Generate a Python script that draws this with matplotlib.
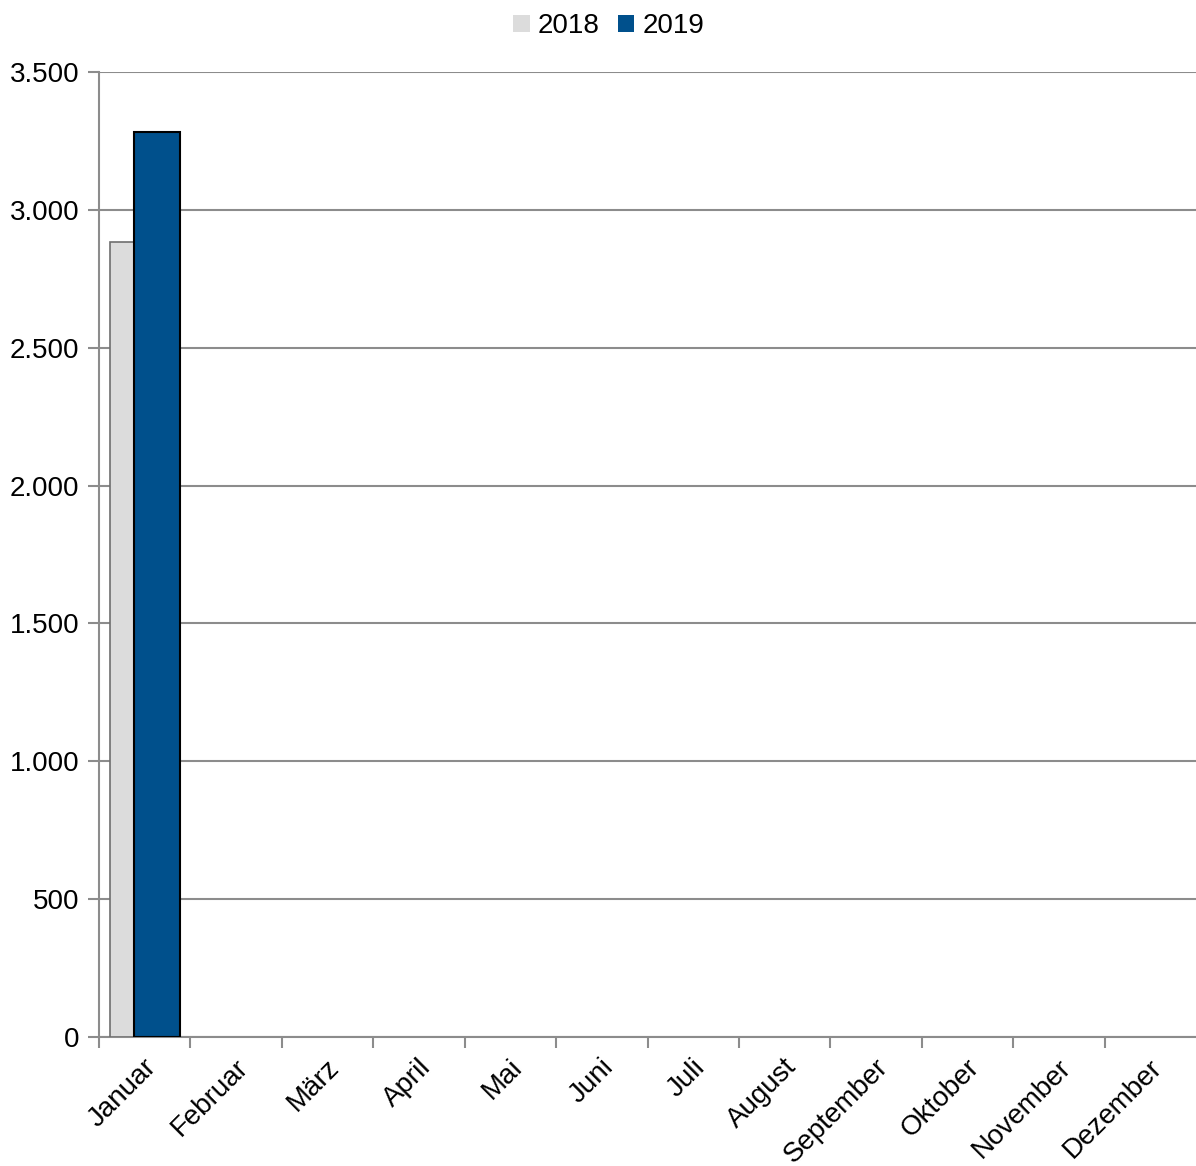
import numpy as np
import matplotlib.pyplot as plt
import matplotlib.transforms as mtrans

# monthly values (only January has data)
months = ["Januar", "Februar", "März", "April", "Mai", "Juni", "Juli",
          "August", "September", "Oktober", "November", "Dezember"]
values_2018 = [2885, 0, 0, 0, 0, 0, 0, 0, 0, 0, 0, 0]
values_2019 = [3282, 0, 0, 0, 0, 0, 0, 0, 0, 0, 0, 0]
y_ticks = [0, 500, 1000, 1500, 2000, 2500, 3000, 3500]
y_labels = ["0", "500", "1.000", "1.500", "2.000", "2.500", "3.000", "3.500"]

plt.rcParams['font.family'] = ['Liberation Sans', 'DejaVu Sans']
grey = '#8c8c8c'
fs = 20

fig = plt.figure(figsize=(11.96, 11.66), dpi=100)
ax = fig.add_axes([99 / 1196, 1 - 1037 / 1166, 1 - 99 / 1196, (1037 - 72) / 1166])

x = np.arange(len(months))
w = 0.5
off = 0.135
# no outline for empty months
lw18 = [1.2 if v > 0 else 0 for v in values_2018]
lw19 = [1.5 if v > 0 else 0 for v in values_2019]
b18 = ax.bar(x - off, values_2018, w, color='#dcdcdc', edgecolor='#6e6e6e', linewidth=lw18, label='2018', zorder=3)
b19 = ax.bar(x + off, values_2019, w, color='#00508c', edgecolor='black', linewidth=lw19, label='2019', zorder=4)

ax.set_xlim(-0.5, len(months) - 0.5)
ax.set_ylim(0, 3500)
ax.set_yticks(y_ticks)
ax.set_yticklabels(y_labels, fontsize=fs)
ax.yaxis.grid(True, color=grey, linewidth=1.5, zorder=0)
ax.set_axisbelow(True)

# category boundary ticks, labels at category centers
ax.set_xticks(np.arange(len(months)) - 0.5)
ax.set_xticklabels([])
ax.set_xticks(x, minor=True)
ax.set_xticklabels(months, minor=True, rotation=45, ha='right', va='center',
                   rotation_mode='anchor', fontsize=fs)
ax.tick_params(axis='x', which='major', length=8, width=1.5, color=grey)
ax.tick_params(axis='x', which='minor', length=0, pad=19)
ax.tick_params(axis='y', length=8, width=1.5, color=grey, pad=6)
shift = mtrans.ScaledTranslation(8 / 100, 0, fig.dpi_scale_trans)
for lab in ax.get_xticklabels(minor=True):
    lab.set_transform(lab.get_transform() + shift)

for s in ['top', 'right']:
    ax.spines[s].set_visible(False)
for s in ['left', 'bottom']:
    ax.spines[s].set_color(grey)
    ax.spines[s].set_linewidth(1.5)

fig.legend(handles=[b18, b19], labels=['2018', '2019'], loc='upper center',
           bbox_to_anchor=(0.509, 1.01), ncol=2, frameon=False, fontsize=fs,
           handlelength=0.6, handleheight=0.6, handletextpad=0.3, columnspacing=0.65)
for h, c in zip(fig.legends[0].legend_handles, ['#dcdcdc', '#00508c']):
    h.set_edgecolor(c)
    h.set_linewidth(0)

fig.savefig('out.png', dpi=100)
